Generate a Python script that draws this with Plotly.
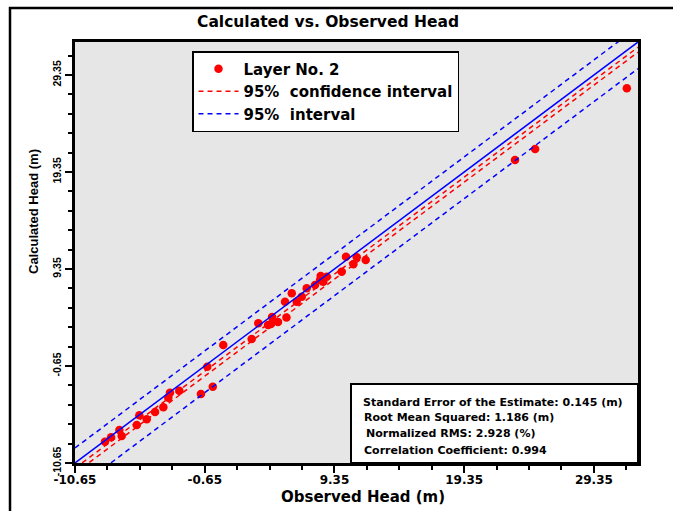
import plotly.graph_objects as go

# ---- data ----
observed = [-8.34, -7.87, -7.23, -7.05, -5.89, -5.69, -5.12, -4.48, -3.84, -3.46,
            -3.33, -2.61, -0.94, -0.03, -0.45, 0.78, 2.97, 3.48, 4.23, 4.46,
            4.54, 5.00, 5.65, 5.54, 6.06, 6.44, 6.83, 7.21, 7.85, 8.24,
            8.49, 8.29, 8.76, 9.91, 10.24, 11.07, 10.81, 11.76, 23.27, 24.82, 31.89]
calculated = [-8.45, -8.00, -7.25, -7.87, -6.73, -5.73, -6.14, -5.39, -4.91, -3.92,
              -3.40, -3.20, -3.54, -2.78, -0.72, 1.51, 2.13, 3.75, 3.58, 3.68,
              4.40, 3.89, 4.35, 5.98, 6.84, 5.98, 6.49, 7.36, 7.70, 8.22,
              8.04, 8.63, 8.56, 9.07, 10.62, 10.56, 9.83, 10.28, 20.59, 21.72, 27.98]

axis_range = [-10.65, 32.75]
tick_values = [-10.65, -0.65, 9.35, 19.35, 29.35]
tick_labels = ["-10.65", "-0.65", "9.35", "19.35", "29.35"]

# offsets of the interval lines from the 1:1 line (calculated - observed)
ci_offsets = [-0.54, -1.05]      # 95% confidence interval
pi_offsets = [1.55, -2.75]       # 95% interval

stats_lines = [
    "Standard Error of the Estimate: 0.145 (m)",
    "Root Mean Squared: 1.186 (m)",
    "Normalized RMS: 2.928 (%)",
    "Correlation Coefficient: 0.994",
]

WIDE = "DejaVu Sans, Liberation Sans, Arial, sans-serif"
FONT = "Liberation Sans, Arial, sans-serif"
DASH = "5px,4px"

fig = go.Figure()

fig.add_trace(go.Scatter(
    x=observed, y=calculated, mode="markers", name="Layer No. 2",
    marker=dict(color="#ff0000", size=8.5, line=dict(width=0)),
))

lx = axis_range
for i, off in enumerate(ci_offsets):
    fig.add_trace(go.Scatter(
        x=lx, y=[v + off for v in lx], mode="lines",
        name="95%\u00a0\u00a0confidence interval", legendgroup="ci",
        showlegend=(i == 0),
        line=dict(color="#ff0000", width=1.5, dash=DASH),
    ))
for i, off in enumerate(pi_offsets):
    fig.add_trace(go.Scatter(
        x=lx, y=[v + off for v in lx], mode="lines",
        name="95%\u00a0\u00a0interval", legendgroup="pi",
        showlegend=(i == 0),
        line=dict(color="#0000ff", width=1.5, dash=DASH),
    ))
fig.add_trace(go.Scatter(
    x=lx, y=lx, mode="lines", showlegend=False,
    line=dict(color="#0000ff", width=1.5),
))

# geometry helpers (plot area: x 75..638, y 42..463 px)
L, R, T, B = 75, 638, 42, 463
W, H = R - L, B - T
def px(xp):
    return (xp - L) / W
def py(yp):
    return (B - yp) / H

axis_common = dict(
    range=axis_range, tickmode="array", tickvals=tick_values, ticktext=tick_labels,
    showgrid=False, zeroline=False, showline=True, linecolor="black", linewidth=2.5,
    mirror=True, ticks="outside", ticklen=7, tickwidth=1.5, tickcolor="black",
)

fig.update_xaxes(**axis_common, ticklabelstandoff=-3,
                 tickfont=dict(family=WIDE, size=12, color="black", weight="bold"),
                 minor=dict(tick0=-10.65, dtick=2.5, ticks="outside", ticklen=4,
                            tickwidth=1.5, tickcolor="black", showgrid=False))
fig.update_yaxes(**axis_common, tickangle=-90,
                 tickfont=dict(family=FONT, size=10.5, color="black", weight="bold"),
                 minor=dict(tick0=-10.65, dtick=2, ticks="outside", ticklen=4,
                            tickwidth=1.5, tickcolor="black", showgrid=False))

annotations = [
    dict(text="Calculated vs. Observed Head", x=px(328), y=py(22), xref="paper", yref="paper",
         showarrow=False, xanchor="center", yanchor="middle",
         font=dict(family=WIDE, size=15.5, color="black", weight="bold")),
    dict(text="Observed Head (m)", x=px(363), y=py(497), xref="paper", yref="paper",
         showarrow=False, xanchor="center", yanchor="middle",
         font=dict(family=WIDE, size=15, color="black", weight="bold")),
    dict(text="Calculated Head (m)", x=px(33), y=py(212), xref="paper", yref="paper",
         showarrow=False, xanchor="center", yanchor="middle", textangle=-90,
         font=dict(family=FONT, size=13, color="black", weight="bold")),
]
stat_pos = [(361, 402), (362, 417), (364, 433), (362, 450)]
for txt, (sx, sy) in zip(stats_lines, stat_pos):
    annotations.append(dict(text=txt, x=px(sx), y=py(sy), xref="paper", yref="paper",
                            showarrow=False, xanchor="left", yanchor="middle",
                            font=dict(family=WIDE, size=11, color="black", weight="bold")))

shapes = [
    # stats box
    dict(type="rect", xref="paper", yref="paper", x0=px(351), x1=1.0, y0=0.0, y1=py(384),
         fillcolor="white", line=dict(color="black", width=2), layer="above"),
    # outer frame
    dict(type="rect", xref="paper", yref="paper", x0=px(10), x1=px(700), y0=py(540), y1=py(8),
         fillcolor="rgba(0,0,0,0)", line=dict(color="black", width=2.5), layer="above"),
]

fig.update_layout(
    width=673, height=511, autosize=False,
    margin=dict(l=L, r=673 - R, t=T, b=511 - B),
    paper_bgcolor="white", plot_bgcolor="#e6e6e6",
    showlegend=True, hovermode=False,
    legend=dict(x=px(192), y=py(51), xanchor="left", yanchor="top",
                bgcolor="white", bordercolor="black", borderwidth=1.5,
                font=dict(family=WIDE, size=15, color="black", weight="bold"),
                itemwidth=40, tracegroupgap=0),
    annotations=annotations, shapes=shapes,
)

fig.write_html(
    "out.html",
    config={"displayModeBar": False},
    post_script="document.body.style.margin='0';document.body.style.padding='0';",
)
